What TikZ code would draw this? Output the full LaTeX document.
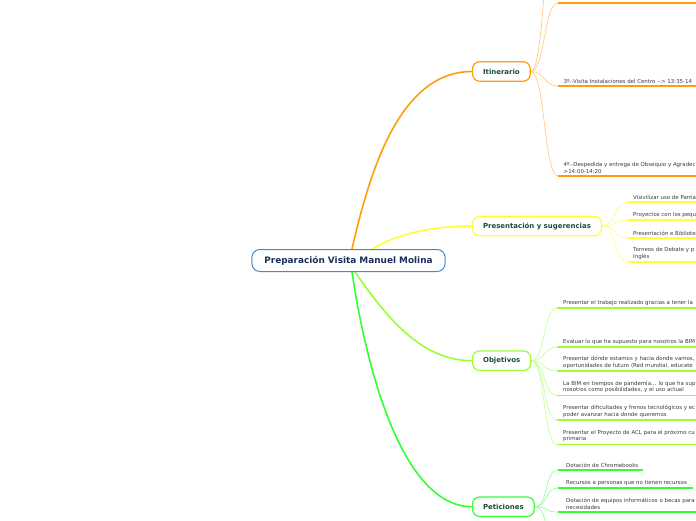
\documentclass[tikz,border=0pt]{standalone}
\usepackage{fontspec}
\setmainfont{DejaVu Sans}
\usetikzlibrary{calc,backgrounds}
\definecolor{rootblue}{HTML}{3D8BD0}
\definecolor{rootnavy}{HTML}{1B2F5B}
\definecolor{topictext}{HTML}{1A4B3C}
\definecolor{leafgrey}{HTML}{3A3A3A}
\definecolor{itinmain}{HTML}{FF9D0A}
\definecolor{itinlight}{HTML}{FFCC85}
\definecolor{presmain}{HTML}{FFFF33}
\definecolor{preslight}{HTML}{FFFF80}
\definecolor{objmain}{HTML}{99FF33}
\definecolor{objlight}{HTML}{C8FF99}
\definecolor{petmain}{HTML}{33FF33}
\definecolor{petlight}{HTML}{99FF99}
\tikzset{
  rootbox/.style={draw=rootblue, line width=1pt, rounded corners=8pt, fill=white,
    inner xsep=12.5pt, inner ysep=0pt, minimum height=22pt,
    font=\fontsize{8.9}{10.5}\selectfont\bfseries, text=rootnavy},
  topicbox/.style={draw=#1, line width=1.2pt, rounded corners=7pt, fill=white,
    inner xsep=10.5pt, inner ysep=0pt, minimum height=19.5pt, anchor=west,
    font=\fontsize{6.95}{8.4}\selectfont\bfseries, text=topictext},
  leaftext/.style={anchor=south west, inner sep=0pt, align=left,
    font=\fontsize{5.45}{6.7}\selectfont, text=leafgrey},
  mainlink/.style={draw=#1, line width=1.6pt},
  sublink/.style={draw=#1, line width=0.7pt},
  uline/.style={draw=#1, line width=1.8pt},
}
\begin{document}
\begin{tikzpicture}[x=1pt,y=-1pt]
\useasboundingbox (0,0) rectangle (696,520);
\clip (0,0) rectangle (696,520);

% ---------- underline anchor coordinates ----------
\coordinate (i0) at (558,-90);
\coordinate (i1) at (558,3);
\coordinate (i3) at (558,86);
\coordinate (i4) at (558,176);
\coordinate (p1) at (628,202);
\coordinate (p2) at (628,220);
\coordinate (p3) at (628,238);
\coordinate (p4) at (628,262);
\coordinate (o1) at (557,308);
\coordinate (o2) at (557,347);
\coordinate (o3) at (557,371);
\coordinate (o4) at (557,395.5);
\coordinate (o5) at (557,420);
\coordinate (o6) at (557,444.5);
\coordinate (q1) at (558,470);
\coordinate (q2) at (558,488);
\coordinate (q3) at (558,512);
\coordinate (q4) at (558,545);

% ---------- nodes ----------
\node[rootbox] (root) at (348.5,260.5) {Preparación Visita Manuel Molina};
\node[topicbox=itinmain] (itin) at (472,71.5) {Itinerario};
\node[topicbox=presmain] (pres) at (472,226) {Presentación y sugerencias};
\node[topicbox=objmain] (obj) at (472,360.7) {Objetivos};
\node[topicbox=petmain] (pet) at (472,506.7) {Peticiones};

\begin{scope}[on background layer]
% ---------- main connectors ----------
\draw[mainlink=itinmain] ($(root.north)+(3.5,0)$) .. controls +(18,-79) and +(-72,0) .. (itin.west);
\draw[mainlink=presmain] ($(root.north)+(23.5,0)$) .. controls +(23,-14) and +(-42,0) .. (pres.west);
\draw[mainlink=objmain] ($(root.south)+(6.5,0)$) .. controls +(30,43) and +(-52,0) .. (obj.west);
\draw[mainlink=petmain] ($(root.south)+(3.5,0)$) .. controls +(13,88) and +(-72,0) .. (pet.west);

% ---------- sub connectors ----------
\foreach \c in {i0,i1,i3,i4}
  \draw[sublink=itinlight] (itin.east) .. controls +(14,0) and +(-14,0) .. (\c);
\foreach \c in {p1,p2,p3,p4}
  \draw[sublink=preslight] (pres.east) .. controls +(14,0) and +(-14,0) .. (\c);
\foreach \c in {o1,o2,o3,o4,o5,o6}
  \draw[sublink=objlight] (obj.east) .. controls +(14,0) and +(-14,0) .. (\c);
\foreach \c in {q1,q2,q3,q4}
  \draw[sublink=petlight] (pet.east) .. controls +(14,0) and +(-14,0) .. (\c);
\end{scope}

% ---------- underlines ----------
\foreach \c in {i1,i3,i4}
  \draw[uline=itinmain] (\c) -- ++(150,0);
\foreach \c in {p1,p2,p3,p4}
  \draw[uline=presmain] (\c) -- ++(80,0);
\foreach \c in {o1,o2,o3,o4,o5,o6}
  \draw[uline=objmain] (\c) -- ++(150,0);
\draw[uline=petmain] (q1) -- ++(85,0);
\draw[uline=petmain] (q2) -- ++(135,0);
\draw[uline=petmain] (q3) -- ++(150,0);

% ---------- leaf texts ----------
\node[leaftext] (t3) at ($(i3)+(5.5,-2.2)$) {3º.-Visita Instalaciones del Centro -\kern0pt-\kern0pt> 13:35-14};
\node[leaftext] (t4) at ($(i4)+(5.5,-2.2)$) {4º.-Despedida y entrega de Obsequio y Agradec\\>14:00-14:20};
\node[leaftext] (tp1) at ($(p1)+(5,-2.2)$) {Visivilizar uso de Panta};
\node[leaftext] (tp2) at ($(p2)+(5,-2.2)$) {Proyectos con los peque};
\node[leaftext] (tp3) at ($(p3)+(5,-2.2)$) {Presentación e Bibliotec};
\node[leaftext] (tp4) at ($(p4)+(5,-2.2)$) {Torneos de Debate y p\\Inglés};
\node[leaftext] (to1) at ($(o1)+(6,-2.2)$) {Presentar el trabajo realizado gracias a tener la};
\node[leaftext] (to2) at ($(o2)+(6,-2.2)$) {Evaluar lo que ha supuesto para nosotros la BIM};
\node[leaftext] (to3) at ($(o3)+(6,-2.2)$) {Presentar dónde estamos y hacia donde vamos,\\oportunidades de futuro (Red mundial, educate};
\node[leaftext] (to4) at ($(o4)+(6,-2.2)$) {La BIM en tiempos de pandemia... lo que ha sup\\nosotros como posibilidades, y el uso actual};
\node[leaftext] (to5) at ($(o5)+(6,-2.2)$) {Presentar dificultades y frenos tecnológicos y ec\\poder avanzar hacia donde queremos};
\node[leaftext] (to6) at ($(o6)+(6,-2.2)$) {Presentar el Proyecto de ACL para el próximo cu\\primaria};
\node[leaftext] (tq1) at ($(q1)+(8,-2.2)$) {Dotación de Chromebooks};
\node[leaftext] (tq2) at ($(q2)+(8,-2.2)$) {Recursos a personas que no tienen recursos};
\node[leaftext] (tq3) at ($(q3)+(8,-2.2)$) {Dotación de equipos informáticos o becas para\\necesidades};
\end{tikzpicture}
\end{document}
